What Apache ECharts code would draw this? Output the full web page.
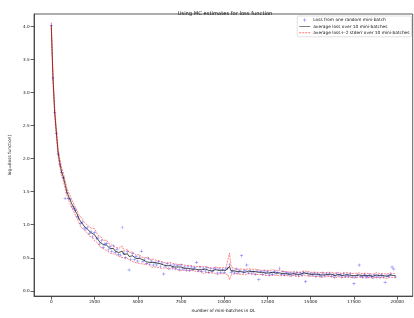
<!DOCTYPE html>
<html><head><meta charset="utf-8">
<script src="https://cdn.jsdelivr.net/npm/echarts@6/dist/echarts.min.js"></script>
<style>html,body{margin:0;padding:0;background:#fff}#c{width:414px;height:318px}</style>
</head><body><div id="c"></div>
<script>
// mini-batch index (every 100 mini-batches)
const batches = Array.from({length: 200}, (_, i) => i * 100);
// loss from one random mini-batch
const singleLoss = [
4.02,3.22,2.70,2.38,2.07,1.91,1.79,1.71,1.40,1.49,1.40,1.38,1.28,1.25,1.22,1.13,1.10,1.02,1.04,0.95,
0.93,0.96,0.87,0.90,0.82,0.88,0.79,0.80,0.71,0.76,0.66,0.71,0.72,0.62,0.67,0.60,0.68,0.58,0.63,0.55,
0.54,0.96,0.57,0.50,0.59,0.315,0.48,0.56,0.47,0.52,0.45,0.51,0.60,0.44,0.48,0.41,0.49,0.40,0.45,0.39,
0.43,0.39,0.44,0.37,0.42,0.256,0.37,0.41,0.34,0.40,0.35,0.39,0.33,0.38,0.32,0.39,0.33,0.36,0.31,0.37,
0.31,0.36,0.32,0.35,0.43,0.30,0.36,0.29,0.34,0.30,0.35,0.28,0.34,0.29,0.33,0.34,0.27,0.33,0.28,0.32,
0.28,0.33,0.34,0.40,0.28,0.31,0.27,0.33,0.27,0.31,0.53,0.28,0.31,0.39,0.27,0.30,0.26,0.29,0.25,0.30,
0.17,0.29,0.25,0.30,0.26,0.29,0.24,0.28,0.25,0.29,0.26,0.28,0.34,0.25,0.29,0.24,0.28,0.25,0.27,0.23,
0.27,0.24,0.28,0.23,0.27,0.24,0.28,0.14,0.27,0.23,0.26,0.24,0.27,0.22,0.26,0.24,0.22,0.27,0.23,0.26,
0.23,0.26,0.22,0.25,0.21,0.26,0.23,0.25,0.21,0.26,0.22,0.25,0.22,0.26,0.21,0.11,0.21,0.24,0.39,0.22,
0.21,0.25,0.22,0.21,0.24,0.22,0.20,0.24,0.21,0.23,0.20,0.24,0.21,0.13,0.23,0.22,0.25,0.36,0.33,0.21];
// average loss over 10 mini-batches
const avgLoss = [
4.02,3.21,2.70,2.38,2.08,1.93,1.80,1.72,1.61,1.50,1.43,1.37,1.31,1.27,1.20,1.16,1.09,1.05,1.02,0.98,
0.97,0.93,0.91,0.88,0.86,0.85,0.81,0.78,0.74,0.73,0.70,0.68,0.69,0.66,0.64,0.63,0.64,0.60,0.61,0.58,
0.57,0.60,0.55,0.54,0.56,0.52,0.51,0.53,0.50,0.49,0.48,0.49,0.46,0.47,0.45,0.44,0.46,0.43,0.42,0.43,
0.41,0.42,0.40,0.41,0.39,0.39,0.40,0.38,0.37,0.38,0.37,0.36,0.38,0.36,0.35,0.36,0.35,0.34,0.36,0.34,
0.34,0.33,0.35,0.33,0.33,0.32,0.34,0.32,0.31,0.33,0.32,0.31,0.32,0.30,0.31,0.32,0.30,0.31,0.30,0.31,
0.30,0.31,0.31,0.37,0.30,0.29,0.30,0.31,0.29,0.30,0.29,0.30,0.28,0.29,0.30,0.28,0.29,0.28,0.29,0.27,
0.28,0.27,0.28,0.29,0.27,0.28,0.27,0.26,0.28,0.27,0.27,0.26,0.27,0.28,0.26,0.27,0.26,0.27,0.25,0.26,
0.26,0.27,0.25,0.26,0.25,0.26,0.27,0.25,0.26,0.25,0.25,0.26,0.25,0.24,0.25,0.26,0.24,0.25,0.24,0.25,
0.25,0.24,0.25,0.24,0.23,0.24,0.25,0.24,0.23,0.24,0.24,0.23,0.24,0.25,0.23,0.24,0.23,0.22,0.24,0.23,
0.23,0.24,0.23,0.22,0.23,0.24,0.22,0.23,0.24,0.22,0.23,0.22,0.23,0.24,0.22,0.23,0.24,0.22,0.23,0.23];
// standard error of the 10-mini-batch average
const stdErr = [
0.02,0.03,0.03,0.03,0.03,0.03,0.03,0.03,0.03,0.03,0.03,0.03,0.03,0.035,0.03,0.035,0.03,0.04,0.035,0.03,
0.035,0.03,0.04,0.035,0.03,0.045,0.04,0.03,0.035,0.04,0.03,0.035,0.04,0.03,0.035,0.03,0.04,0.03,0.035,0.03,
0.03,0.04,0.025,0.03,0.035,0.03,0.025,0.03,0.035,0.025,0.03,0.03,0.025,0.03,0.025,0.03,0.025,0.02,0.03,0.025,
0.025,0.02,0.025,0.02,0.025,0.02,0.025,0.02,0.02,0.025,0.02,0.025,0.02,0.02,0.025,0.02,0.02,0.025,0.02,0.02,
0.02,0.025,0.02,0.02,0.02,0.025,0.02,0.02,0.025,0.02,0.02,0.02,0.025,0.02,0.02,0.02,0.025,0.02,0.02,0.02,
0.02,0.02,0.03,0.10,0.03,0.02,0.018,0.02,0.018,0.02,0.02,0.018,0.02,0.02,0.018,0.02,0.018,0.02,0.018,0.02,
0.018,0.02,0.015,0.018,0.02,0.015,0.018,0.015,0.02,0.015,0.018,0.015,0.02,0.018,0.015,0.018,0.015,0.02,0.015,0.018,
0.015,0.018,0.015,0.02,0.015,0.018,0.015,0.015,0.018,0.015,0.015,0.018,0.015,0.018,0.015,0.015,0.018,0.015,0.015,0.018,
0.015,0.018,0.015,0.015,0.018,0.015,0.015,0.018,0.015,0.015,0.018,0.015,0.015,0.018,0.015,0.015,0.018,0.015,0.015,0.018,
0.015,0.015,0.018,0.015,0.015,0.018,0.015,0.015,0.018,0.015,0.015,0.018,0.015,0.015,0.018,0.015,0.015,0.018,0.015,0.015];
const xTicks = [0,2500,5000,7500,10000,12500,15000,17500,20000];
const yTicks = [0,0.5,1,1.5,2,2.5,3,3.5,4];

const scatterData = batches.map((b, i) => [b, singleLoss[i]]);
const avgData = batches.map((b, i) => [b, avgLoss[i]]);
const upperData = batches.map((b, i) => [b, +(avgLoss[i] + 2 * stdErr[i]).toFixed(4)]);
const lowerData = batches.map((b, i) => [b, +(avgLoss[i] - 2 * stdErr[i]).toFixed(4)]);

const FONT = 'DejaVu Sans';
const bandName = 'average loss+-2 stderr over 10 mini-batches';
const plus = 'path://M4.3,0H5.7V4.3H10V5.7H5.7V10H4.3V5.7H0V4.3H4.3Z';
const thinLine = 'path://M0,0H22V1H0Z';
const dashLine = 'path://M0,0H4V2H0ZM6,0H10V2H6ZM12,0H16V2H12ZM18,0H22V2H18Z';

const chart = echarts.init(document.getElementById('c'), null, {renderer: 'canvas'});
chart.setOption({
  animation: false,
  backgroundColor: '#fff',
  title: {
    text: 'Using MC estimates for loss function',
    left: 220, top: 6.3, textAlign: 'center',
    textStyle: {fontFamily: FONT, fontSize: 5.2, fontWeight: 'normal', color: '#111'}
  },
  grid: {left: 27, right: 1.3, top: 14, bottom: 15.3, show: true, borderColor: '#333', borderWidth: 0.8, containLabel: false},
  legend: {
    orient: 'vertical', right: 2.5, top: 16,
    itemWidth: 11, itemHeight: 3.4, itemGap: 2.4,
    padding: [2, 2, 2, 2],
    symbolKeepAspect: true,
    borderColor: '#ccc', borderWidth: 0.6, borderRadius: 1.5, backgroundColor: 'rgba(255,255,255,0.8)',
    textStyle: {fontFamily: FONT, fontSize: 4.3, color: '#111', padding: [0, 0, 0, -2]},
    data: [
      {name: 'Loss from one random mini-batch', icon: plus, itemStyle: {color: '#0000ff', opacity: 0.6}},
      {name: 'average loss over 10 mini-batches', icon: thinLine, itemStyle: {color: '#000'}},
      {name: bandName, icon: dashLine, itemStyle: {color: 'rgba(255,0,0,0.55)'}}
    ]
  },
  xAxis: {
    type: 'value', min: -995, max: 20895,
    name: 'number of mini-batches in DL', nameLocation: 'middle', nameGap: 9,
    nameTextStyle: {fontFamily: FONT, fontSize: 4.3, color: '#111'},
    axisLine: {show: true, onZero: false, lineStyle: {color: '#333', width: 0.8}},
    axisTick: {show: true, length: 3.5, lineStyle: {color: '#333', width: 0.8}, customValues: xTicks},
    axisLabel: {fontFamily: FONT, fontSize: 4.2, color: '#111', margin: 4, customValues: xTicks, formatter: v => String(v)},
    splitLine: {show: false}
  },
  yAxis: {
    type: 'value', min: -0.08, max: 4.19,
    name: 'log\u2081\u2080(loss function)', nameLocation: 'middle', nameGap: 14, nameRotate: 90,
    nameTextStyle: {fontFamily: FONT, fontSize: 4.3, color: '#111'},
    axisLine: {show: true, onZero: false, lineStyle: {color: '#333', width: 0.8}},
    axisTick: {show: true, length: 3.5, lineStyle: {color: '#333', width: 0.8}, customValues: yTicks},
    axisLabel: {fontFamily: FONT, fontSize: 4.2, color: '#111', margin: 4.5, customValues: yTicks, formatter: v => v.toFixed(1)},
    splitLine: {show: false}
  },
  series: [
    {
      name: 'Loss from one random mini-batch', type: 'scatter', data: scatterData,
      symbol: plus, symbolSize: 3.2, z: 2,
      itemStyle: {color: '#0000ff', opacity: 0.6}
    },
    {
      name: 'average loss over 10 mini-batches', type: 'line', data: avgData,
      showSymbol: false, symbol: 'none', z: 3,
      lineStyle: {color: '#000', width: 0.7}, itemStyle: {color: '#000'}
    },
    {
      name: bandName, type: 'line', data: upperData,
      showSymbol: false, symbol: 'none', z: 4,
      lineStyle: {color: 'rgba(255,0,0,0.7)', width: 0.7, type: [2, 1]}, itemStyle: {color: 'rgba(255,0,0,0.7)'}
    },
    {
      name: bandName, type: 'line', data: lowerData,
      showSymbol: false, symbol: 'none', z: 4,
      lineStyle: {color: 'rgba(255,0,0,0.7)', width: 0.7, type: [2, 1]}, itemStyle: {color: 'rgba(255,0,0,0.7)'}
    }
  ]
});
</script></body></html>
